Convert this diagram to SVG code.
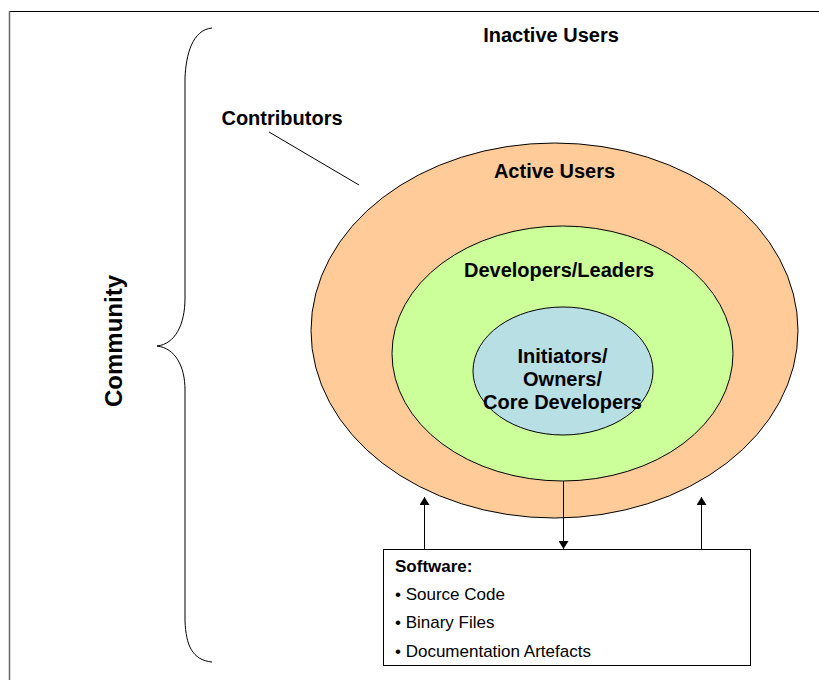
<svg xmlns="http://www.w3.org/2000/svg" width="819" height="680" viewBox="0 0 819 680">
<defs>
<style>
text{font-family:"Liberation Sans",Arial,sans-serif;fill:#000}
.b{font-weight:bold;font-size:20px}
.n{font-size:17px}
.ln{stroke:#000;stroke-width:1;fill:none}
</style>
<marker id="ah" viewBox="0 0 8 10" refX="8" refY="5" markerWidth="8" markerHeight="10" markerUnits="userSpaceOnUse" orient="auto">
<path d="M0,0 L8,5 L0,10 Z" fill="#000"/>
</marker>
</defs>
<rect width="819" height="680" fill="#fff"/>
<g id="frame">
<line x1="9" y1="11.5" x2="819" y2="11.5" stroke="#000" stroke-width="1.2"/>
<line x1="9.5" y1="11" x2="9.5" y2="680" stroke="#666" stroke-width="1.5"/>
</g>
<g id="inactive-users">
<text class="b" x="551" y="42" text-anchor="middle">Inactive Users</text>
</g>
<g id="community">
<path class="ln" d="M212,28 C192,30 186,55 185,78 L185,298 C185,325 175,344 157,346 C175,348 185,366 185,390 L185,621 C186,645 192,660 212,662"/>
<text x="122" y="341" transform="rotate(-90 122 341)" text-anchor="middle" font-weight="bold" font-size="24">Community</text>
</g>
<g id="active-users">
<ellipse cx="554.5" cy="330.5" rx="243.5" ry="187.5" fill="#FFCC99" stroke="#000" stroke-width="1"/>
<text class="b" x="554.5" y="178" text-anchor="middle">Active Users</text>
</g>
<g id="developers-leaders">
<ellipse cx="562.5" cy="353.5" rx="170.5" ry="127.5" fill="#CCFF99" stroke="#000" stroke-width="1"/>
<text class="b" x="559" y="277" text-anchor="middle">Developers/Leaders</text>
</g>
<g id="core-developers">
<ellipse cx="563" cy="371" rx="90" ry="64" fill="#B8DFE3" stroke="#000" stroke-width="1"/>
<text class="b" text-anchor="middle"><tspan x="562.5" y="363">Initiators/</tspan><tspan x="562.5" y="386">Owners/</tspan><tspan x="562.5" y="409">Core Developers</tspan></text>
</g>
<g id="contributors">
<text class="b" x="282" y="125" text-anchor="middle">Contributors</text>
</g>
<g id="software">
<rect x="383.5" y="549.5" width="367" height="116" fill="#fff" stroke="#000" stroke-width="1"/>
<text x="395" y="572" font-weight="bold" font-size="17">Software:</text>
<text class="n" x="395" y="600">• Source Code</text>
<text class="n" x="395" y="628">• Binary Files</text>
<text class="n" x="395" y="657">• Documentation Artefacts</text>
</g>
<g id="connectors">
<line class="ln" x1="269" y1="132" x2="359" y2="185"/>
<line class="ln" x1="424.5" y1="549" x2="424.5" y2="497" marker-end="url(#ah)"/>
<line class="ln" x1="701.5" y1="549" x2="701.5" y2="497" marker-end="url(#ah)"/>
<line class="ln" x1="563.5" y1="481" x2="563.5" y2="549" marker-end="url(#ah)"/>
</g>
</svg>
